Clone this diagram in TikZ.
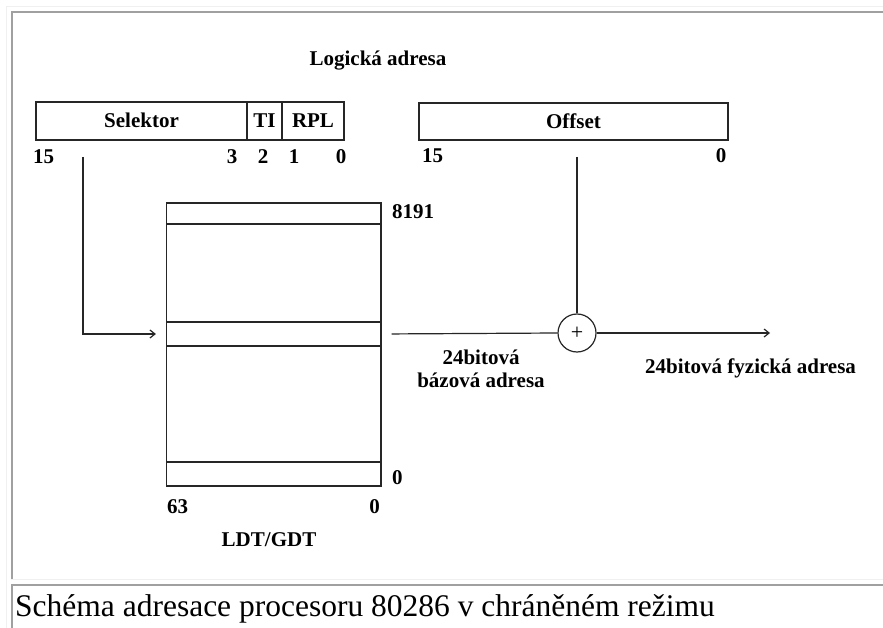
\documentclass[tikz,border=0pt]{standalone}
\usepackage{fontspec}
\setmainfont{Liberation Serif}
\usetikzlibrary{arrows.meta}
\definecolor{framelight}{HTML}{F0F0F0}
\definecolor{framedark}{HTML}{A0A0A0}
\definecolor{ink}{HTML}{262626}
\tikzset{
  lbl/.style={inner sep=0pt, font=\fontsize{21}{25}\selectfont\bfseries, text=black},
  field/.style={draw=ink, line width=1.2pt, minimum height=38pt, inner sep=0pt,
    font=\fontsize{21}{25}\selectfont\bfseries, text height=14pt, text depth=0pt},
  row/.style={draw=ink, line width=1.2pt, inner sep=0pt, minimum width=214.5pt},
  conn/.style={draw=ink, line width=1.2pt},
  tip/.style={-{Straight Barb[length=5pt,width=8pt,line width=1.2pt]}},
}
\begin{document}
\begin{tikzpicture}[x=1pt, y=-1pt]
\useasboundingbox (0,0) rectangle (883,628);
\fill[white] (0,0) rectangle (883,628);

% table cell borders around the figure and the caption
\draw[framelight, line width=1.5pt] (6.5,628) -- (6.5,6.5) -- (883,6.5);
\draw[framedark, line width=2pt] (12,580) -- (12,12.5) -- (883,12.5);
\draw[framelight, line width=1.5pt] (11,579.5) -- (883,579.5);
\draw[framedark, line width=2pt] (12,628) -- (12,585) -- (883,585);

% logical address
\node[lbl, anchor=base] (title) at (378,66) {Logická adresa};

\node[field, minimum width=211pt] (sel) at (141.5,121) {Selektor};
\node[field, minimum width=35pt] (ti) at (264.5,121) {TI};
\node[field, minimum width=62pt] (rpl) at (313,121) {RPL};
\node[field, minimum width=309pt, minimum height=37pt] (off) at (573.5,121.5) {Offset};

\node[lbl, anchor=base west] (s15) at (33,164) {15};
\node[lbl, anchor=base] (s3) at (232,164) {3};
\node[lbl, anchor=base] (s2) at (263,164) {2};
\node[lbl, anchor=base] (s1) at (294,164) {1};
\node[lbl, anchor=base] (s0) at (341,164) {0};
\node[lbl, anchor=base west] (o15) at (422,163) {15};
\node[lbl, anchor=base] (o0) at (721,163) {0};

% descriptor table
\node[row, minimum height=283pt] (tbl) at (273.75,344.5) {};
\node[row, minimum height=21pt] (rtop) at (273.75,213.5) {};
\node[row, minimum height=24pt] (rsel) at (273.75,334) {};
\node[row, minimum height=24pt] (rbot) at (273.75,474) {};

\node[lbl, anchor=base west] (t8191) at (392,219) {8191};
\node[lbl, anchor=base west] (tz) at (392,484) {0};
\node[lbl, anchor=base west] (t63) at (167,513) {63};
\node[lbl, anchor=base east] (t0) at (380,513) {0};
\node[lbl, anchor=base] (tname) at (269,546) {LDT/GDT};

% adder
\node[draw=ink, line width=1.2pt, circle, minimum size=38pt, inner sep=0pt,
  font=\fontsize{22}{22}\selectfont] (sum) at (577,333) {+};

\coordinate (selsrc) at (83,157);
\coordinate (offsrc) at (577,157);
\coordinate (outend) at (770,333);

\draw[conn, tip, shorten >=10pt] (selsrc) |- (rsel.west);
\draw[conn, shorten <=10pt] (rsel.east) -- (sum.west);
\draw[conn] (offsrc) -- (sum.north);
\draw[conn, tip] (sum.east) -- (outend);

\node[lbl, anchor=base] (base1) at (481,364) {24bitová};
\node[lbl, anchor=base] (base2) at (481,387) {bázová adresa};
\node[lbl, anchor=base west] (phys) at (645,373) {24bitová fyzická adresa};

% caption
\node[inner sep=0pt, anchor=base west, font=\fontsize{31.5}{34}\selectfont] (cap)
  at (15,616) {Schéma adresace procesoru 80286 v chráněném režimu};
\end{tikzpicture}
\end{document}
